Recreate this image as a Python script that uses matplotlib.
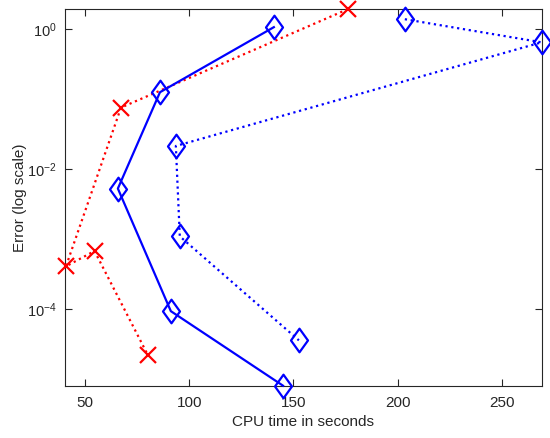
import matplotlib
matplotlib.use("Agg")
import matplotlib.pyplot as plt
from matplotlib.path import Path
from matplotlib.ticker import LogLocator, NullLocator, LogFormatterSciNotation

plt.rcParams['font.family'] = ['Liberation Sans', 'DejaVu Sans']
plt.rcParams['mathtext.fontset'] = 'custom'
plt.rcParams['mathtext.rm'] = 'Liberation Sans'
plt.rcParams['mathtext.it'] = 'Liberation Sans:italic'
plt.rcParams['mathtext.bf'] = 'Liberation Sans:bold'

# Data
solid_x = [140.6, 86.0, 65.8, 91.2, 145.0]
solid_y = [1.07, 0.126, 0.0053, 9.4e-5, 8.1e-6]

dotted_blue_x = [203.4, 269.0, 93.6, 95.5, 152.6]
dotted_blue_y = [1.39, 0.65, 0.0215, 0.0011, 3.6e-5]

red_x = [176.0, 67.3, 40.9, 54.6, 80.1]
red_y = [1.93, 0.076, 4.1e-4, 6.8e-4, 2.24e-5]

xticks = [50, 100, 150, 200, 250]

diamond = Path([(0, 1), (0.72, 0), (0, -1), (-0.72, 0), (0, 1)],
               [Path.MOVETO, Path.LINETO, Path.LINETO, Path.LINETO, Path.CLOSEPOLY])

fig = plt.figure(figsize=(5.5, 4.38), dpi=100)
ax = fig.add_axes([0.118, 0.1187, 0.8675, 0.8603])

ax.plot(red_x, red_y, ':', color='red', lw=1.6, marker='x', ms=11, mew=1.6,
        clip_on=False, zorder=3)
ax.plot(solid_x, solid_y, '-', color='blue', lw=1.6, marker=diamond, ms=17,
        mfc='none', mew=1.6, clip_on=False, zorder=3)
ax.plot(dotted_blue_x, dotted_blue_y, ':', color='blue', lw=1.6, marker=diamond,
        ms=17, mfc='none', mew=1.6, clip_on=False, zorder=3)

ax.set_yscale('log')
ax.set_xlim(40.4, 269.2)
ax.set_ylim(10**-5.096, 10**0.286)
ax.set_xticks(xticks)
ax.yaxis.set_major_locator(LogLocator(base=100.0, numticks=10))
ax.yaxis.set_major_formatter(LogFormatterSciNotation(base=10))
ax.yaxis.set_minor_locator(NullLocator())

tc = '#262626'
for s in ax.spines.values():
    s.set_color(tc)
    s.set_linewidth(0.8)
ax.tick_params(direction='in', top=True, right=True, length=5, width=0.8,
               colors=tc, pad=6)
ax.tick_params(axis='x', labelsize=11, pad=7)
ax.tick_params(axis='y', labelsize=10.5, pad=6)
ax.set_xlabel('CPU time in seconds', fontsize=11, color=tc, labelpad=4)
ax.set_ylabel('Error (log scale)', fontsize=11, color=tc)
ax.yaxis.set_label_coords(-0.094, 0.5)
ax.yaxis.label.set_verticalalignment('center')

fig.savefig('out.png', dpi=100)
